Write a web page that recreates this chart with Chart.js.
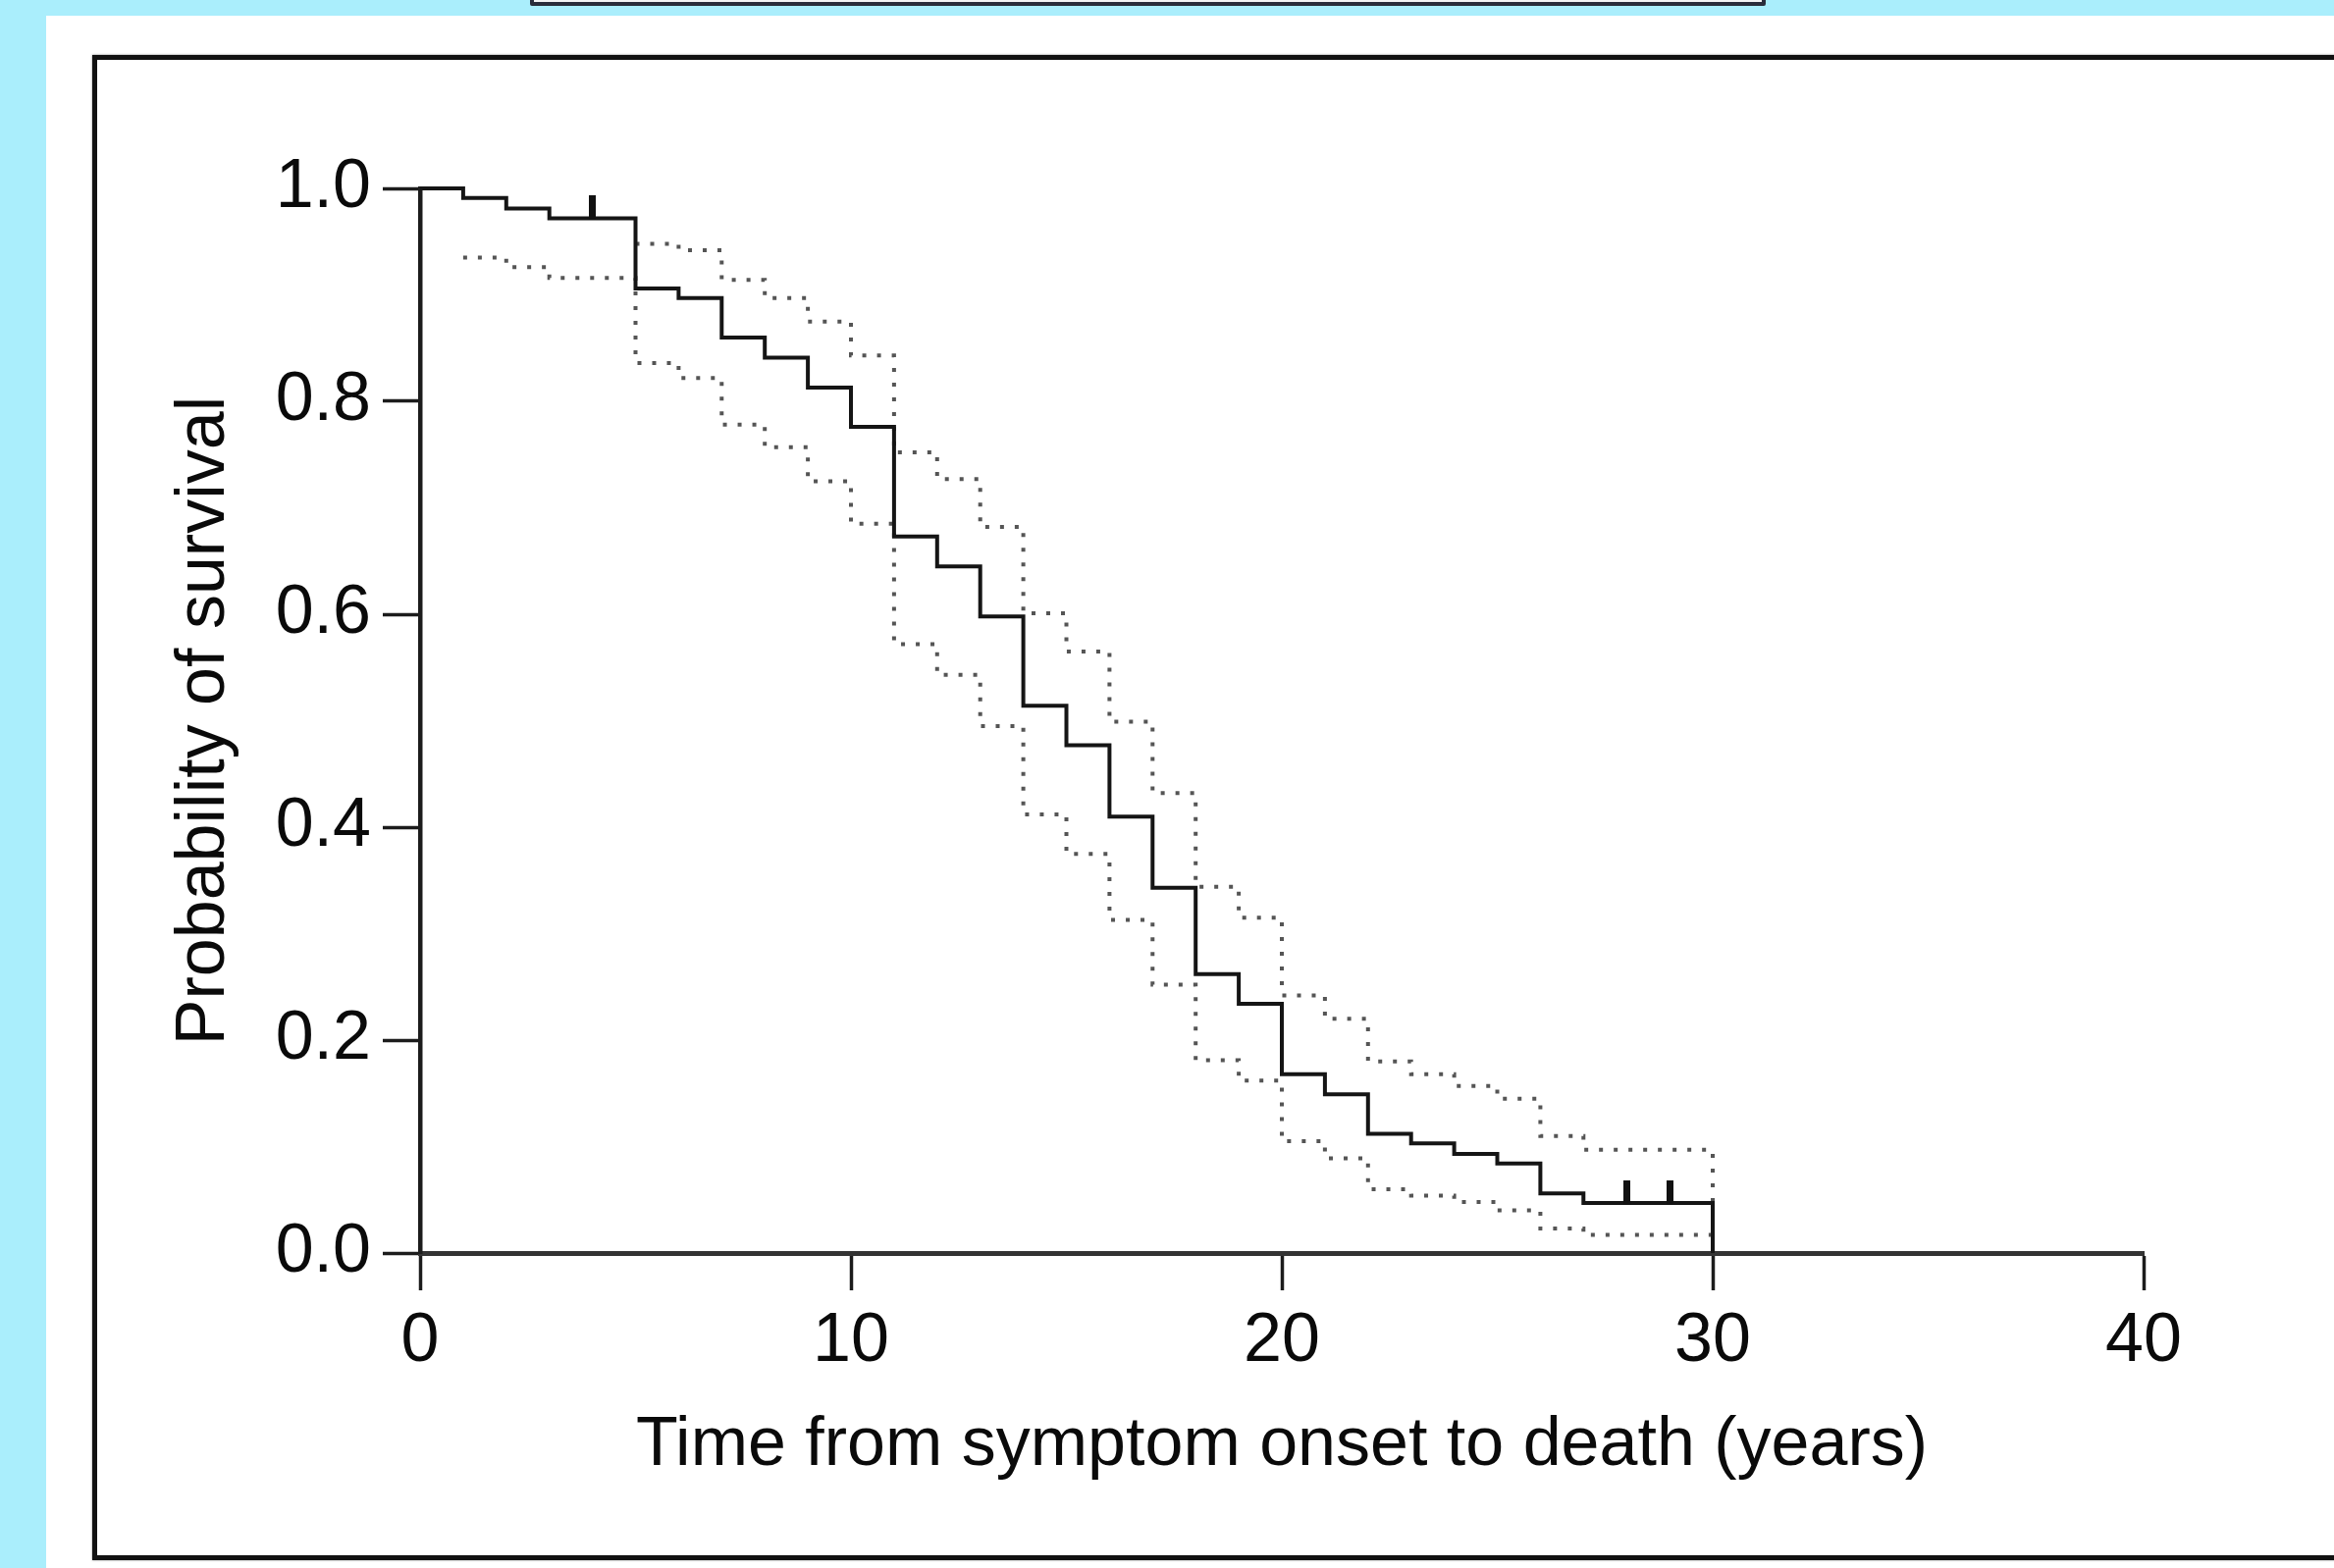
<!DOCTYPE html>
<html lang="en">
<head>
    <meta charset="UTF-8">
    <title>Probability of survival</title>
    <script src="https://cdn.jsdelivr.net/npm/chart.js"></script>
    <style>
        html, body { margin: 0; padding: 0; }
        body {
            width: 2378px;
            height: 1598px;
            overflow: hidden;
            background-color: #aaeefc;
            position: relative;
            font-family: "Liberation Sans", Arial, sans-serif;
        }
        #topBox {
            position: absolute;
            left: 540px; top: -20px;
            width: 1251px; height: 18px;
            background: #f4f4f4;
            border: 4px solid #2a2d3a;
            border-radius: 2px;
        }
        #panel {
            position: absolute;
            left: 47px; top: 16px;
            right: 0; bottom: 0;
            background: #fff;
        }
        #frame {
            position: absolute;
            left: 94px; top: 56px;
            width: 2400px; height: 1524px;
            border: 5px solid #111;
            box-shadow: 0 0 2px rgba(0,0,0,0.5);
        }
        #wrap {
            position: absolute;
            left: 0; top: 0;
            width: 2378px; height: 1598px;
        }
    </style>
</head>
<body>
    <div id="topBox"></div>
    <div id="panel"></div>
    <div id="frame"></div>
    <div id="wrap"><canvas id="chart"></canvas></div>

    <script>
        // Kaplan-Meier estimate (years, survival)
        const times = [0, 1, 2, 3, 5, 6, 7, 8, 9, 10, 11, 12, 13, 14, 15, 16, 17, 18, 19, 20, 21, 22, 23, 24, 25, 26, 27, 30];
        const survival = [1.0, 0.991, 0.981, 0.972, 0.906, 0.897, 0.860, 0.841, 0.813, 0.776, 0.673, 0.645, 0.598, 0.514, 0.477, 0.410, 0.343, 0.262, 0.234, 0.168, 0.149, 0.112, 0.103, 0.093, 0.084, 0.056, 0.047, 0];

        // 95% confidence band
        const upperTimes = [5, 6, 7, 8, 9, 10, 11, 12, 13, 14, 15, 16, 17, 18, 19, 20, 21, 22, 23, 24, 25, 26, 27, 30];
        const upper = [0.948, 0.942, 0.914, 0.897, 0.875, 0.843, 0.752, 0.727, 0.682, 0.601, 0.565, 0.499, 0.432, 0.344, 0.315, 0.242, 0.220, 0.180, 0.168, 0.157, 0.145, 0.110, 0.097, 0];
        const lowerTimes = [1, 2, 3, 5, 6, 7, 8, 9, 10, 11, 12, 13, 14, 15, 16, 17, 18, 19, 20, 21, 22, 23, 24, 25, 26, 27, 30];
        const lower = [0.935, 0.926, 0.916, 0.836, 0.822, 0.778, 0.757, 0.725, 0.685, 0.572, 0.543, 0.495, 0.412, 0.375, 0.313, 0.252, 0.181, 0.162, 0.105, 0.089, 0.060, 0.054, 0.048, 0.040, 0.023, 0.017, 0.017];

        // censored observations
        const censorTimes = [4, 28, 29];
        const censorSurvival = [0.972, 0.047, 0.047];

        const xTicks = [0, 10, 20, 30, 40];
        const yTicks = [0, 0.2, 0.4, 0.6, 0.8, 1.0];

        const pts = (xs, ys) => xs.map((x, i) => ({ x: x, y: ys[i] }));

        // small vertical tick drawn above the point
        const censorMark = document.createElement('canvas');
        censorMark.width = 7;
        censorMark.height = 46;
        const cm = censorMark.getContext('2d');
        cm.fillStyle = '#111';
        cm.fillRect(0, 0, 7, 24);

        const fontFam = '"Liberation Sans", Arial, sans-serif';
        const axisColor = '#1c1c1c';

        new Chart(document.getElementById('chart'), {
            type: 'scatter',
            data: {
                datasets: [
                    {
                        label: 'Censored',
                        data: pts(censorTimes, censorSurvival),
                        showLine: false,
                        pointStyle: censorMark,
                        pointRadius: 5,
                        clip: false
                    },
                    {
                        label: 'Survival',
                        data: pts(times, survival),
                        showLine: true,
                        stepped: 'before',
                        borderColor: '#151515',
                        borderWidth: 4,
                        pointRadius: 0,
                        clip: false
                    },
                    {
                        label: 'Upper 95% CI',
                        data: pts(upperTimes, upper),
                        showLine: true,
                        stepped: 'before',
                        borderColor: '#555',
                        borderWidth: 4,
                        borderDash: [4, 11],
                        pointRadius: 0,
                        clip: false
                    },
                    {
                        label: 'Lower 95% CI',
                        data: pts(lowerTimes, lower),
                        showLine: true,
                        stepped: 'before',
                        borderColor: '#555',
                        borderWidth: 4,
                        borderDash: [4, 11],
                        pointRadius: 0,
                        clip: false
                    }
                ]
            },
            options: {
                responsive: true,
                maintainAspectRatio: false,
                animation: false,
                layout: { padding: { top: 192, right: 194, left: 0, bottom: 0 } },
                plugins: {
                    legend: { display: false },
                    tooltip: { enabled: false }
                },
                scales: {
                    x: {
                        type: 'linear',
                        min: 0,
                        max: 40,
                        afterFit: s => { s.height = 321; },
                        afterBuildTicks: s => { s.ticks = xTicks.map(v => ({ value: v })); },
                        ticks: {
                            color: '#0a0a0a',
                            padding: 11,
                            maxRotation: 0,
                            font: { family: fontFam, size: 70 }
                        },
                        grid: {
                            drawOnChartArea: false,
                            drawTicks: true,
                            tickLength: 38,
                            tickWidth: 3.5,
                            tickColor: axisColor
                        },
                        border: { display: true, width: 5, color: '#333' },
                        title: {
                            display: true,
                            text: 'Time from symptom onset to death (years)',
                            color: '#0a0a0a',
                            font: { family: fontFam, size: 70 },
                            padding: { top: 0, bottom: 82 }
                        }
                    },
                    y: {
                        type: 'linear',
                        min: 0,
                        max: 1,
                        afterFit: s => { s.width = 428; },
                        afterBuildTicks: s => { s.ticks = yTicks.map(v => ({ value: v })); },
                        ticks: {
                            color: '#0a0a0a',
                            padding: 12,
                            callback: v => v.toFixed(1),
                            font: { family: fontFam, size: 70 }
                        },
                        grid: {
                            drawOnChartArea: false,
                            drawTicks: true,
                            tickLength: 38,
                            tickWidth: 3.5,
                            tickColor: axisColor
                        },
                        border: { display: true, width: 4.5, color: axisColor },
                        title: {
                            display: true,
                            text: 'Probability of survival',
                            color: '#0a0a0a',
                            font: { family: fontFam, size: 70 },
                            padding: { top: 167, bottom: 0 }
                        }
                    }
                }
            }
        });
    </script>
</body>
</html>
